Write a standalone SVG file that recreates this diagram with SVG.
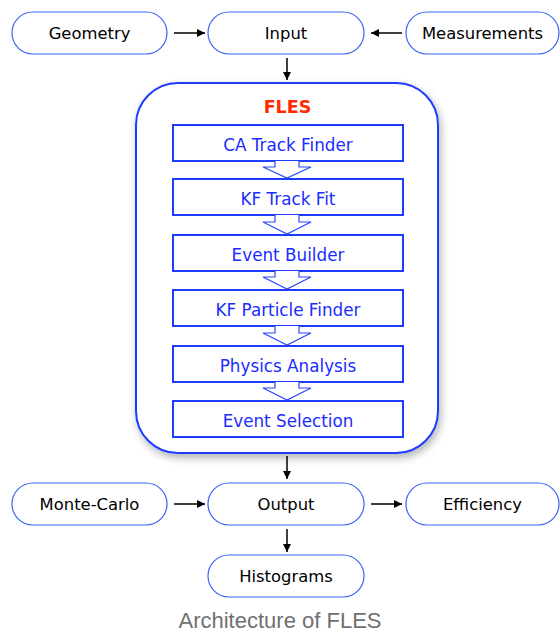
<svg xmlns="http://www.w3.org/2000/svg" width="560" height="635" viewBox="0 0 560 635">
<style>
.pill{fill:#fff;stroke:#3d63f5;stroke-width:1.2}
.pt{font-family:"DejaVu Sans",Verdana,sans-serif;font-size:16.4px;fill:#000;text-anchor:middle}
.stage{fill:#fff;stroke:#1f3cff;stroke-width:2}
.st{font-family:"DejaVu Sans",Verdana,sans-serif;font-size:16.8px;fill:#1a2cff;text-anchor:middle}
.ha{fill:#fff;stroke:#2a48ff;stroke-width:1.2;stroke-linejoin:miter}
.ln{stroke:#000;stroke-width:1.5;fill:none}
</style>
<defs>
<marker id="ah" markerWidth="10" markerHeight="10" refX="9" refY="5" orient="auto" markerUnits="userSpaceOnUse">
<path d="M1,1 L9,5 L1,9 Z" fill="#000"/>
</marker>
<filter id="sh" x="-10%" y="-10%" width="130%" height="130%">
<feGaussianBlur in="SourceAlpha" stdDeviation="4"/>
<feOffset dx="2" dy="4" result="b"/>
<feComponentTransfer><feFuncA type="linear" slope="0.3"/></feComponentTransfer>
<feMerge><feMergeNode/><feMergeNode in="SourceGraphic"/></feMerge>
</filter>
</defs>
<rect width="560" height="635" fill="#fff"/>

<g id="fles">
<rect x="136" y="83" width="302" height="370" rx="42" fill="#fff" stroke="#1f3cff" stroke-width="2" filter="url(#sh)"/>
<text x="287.5" y="113" font-family="'DejaVu Sans',Verdana,sans-serif" font-size="17.5" font-weight="bold" fill="#ff2a00" text-anchor="middle">FLES</text>
</g>

<g id="ca-track-finder"><rect class="stage" x="173" y="125" width="230" height="36"/><text class="st" x="288" y="150.5">CA Track Finder</text></g>
<g id="kf-track-fit"><rect class="stage" x="173" y="179" width="230" height="36"/><text class="st" x="288" y="204.5">KF Track Fit</text></g>
<g id="event-builder"><rect class="stage" x="173" y="235" width="230" height="36"/><text class="st" x="288" y="260.5">Event Builder</text></g>
<g id="kf-particle-finder"><rect class="stage" x="173" y="290" width="230" height="36"/><text class="st" x="288" y="315.5">KF Particle Finder</text></g>
<g id="physics-analysis"><rect class="stage" x="173" y="346" width="230" height="36"/><text class="st" x="288" y="371.5">Physics Analysis</text></g>
<g id="event-selection"><rect class="stage" x="173" y="401" width="230" height="36"/><text class="st" x="288" y="426.5">Event Selection</text></g>

<g id="geometry"><rect class="pill" x="12" y="12" width="155" height="42" rx="21"/><text class="pt" x="89.5" y="39">Geometry</text></g>
<g id="input"><rect class="pill" x="208" y="12" width="156" height="42" rx="21"/><text class="pt" x="286" y="39">Input</text></g>
<g id="measurements"><rect class="pill" x="406" y="12" width="153" height="42" rx="21"/><text class="pt" x="482.5" y="39">Measurements</text></g>
<g id="monte-carlo"><rect class="pill" x="12" y="483" width="155" height="42" rx="21"/><text class="pt" x="89.5" y="510">Monte-Carlo</text></g>
<g id="output"><rect class="pill" x="208" y="483" width="156" height="42" rx="21"/><text class="pt" x="286" y="510">Output</text></g>
<g id="efficiency"><rect class="pill" x="406" y="483" width="153" height="42" rx="21"/><text class="pt" x="482.5" y="510">Efficiency</text></g>
<g id="histograms"><rect class="pill" x="208" y="555" width="156" height="42" rx="21"/><text class="pt" x="286" y="582">Histograms</text></g>

<g id="connectors">
<line class="ln" x1="174" y1="33" x2="205" y2="33" marker-end="url(#ah)"/>
<line class="ln" x1="402" y1="33" x2="371" y2="33" marker-end="url(#ah)"/>
<line class="ln" x1="287" y1="58" x2="287" y2="80" marker-end="url(#ah)"/>
<line class="ln" x1="287" y1="456" x2="287" y2="479" marker-end="url(#ah)"/>
<line class="ln" x1="174" y1="504" x2="205" y2="504" marker-end="url(#ah)"/>
<line class="ln" x1="371" y1="504" x2="402" y2="504" marker-end="url(#ah)"/>
<line class="ln" x1="287" y1="529" x2="287" y2="552" marker-end="url(#ah)"/>
<path class="ha" d="M275,161 V167 H263 L287,178 L311,167 H299 V161"/>
<path class="ha" d="M275,215 V222 H263 L287,234 L311,222 H299 V215"/>
<path class="ha" d="M275,271 V277 H263 L287,289 L311,277 H299 V271"/>
<path class="ha" d="M275,326 V333 H263 L287,345 L311,333 H299 V326"/>
<path class="ha" d="M275,382 V388 H263 L287,400 L311,388 H299 V382"/>
</g>

<text x="280" y="628" font-family="'Liberation Sans',Arial,sans-serif" font-size="22" fill="#707070" text-anchor="middle">Architecture of FLES</text>
</svg>
